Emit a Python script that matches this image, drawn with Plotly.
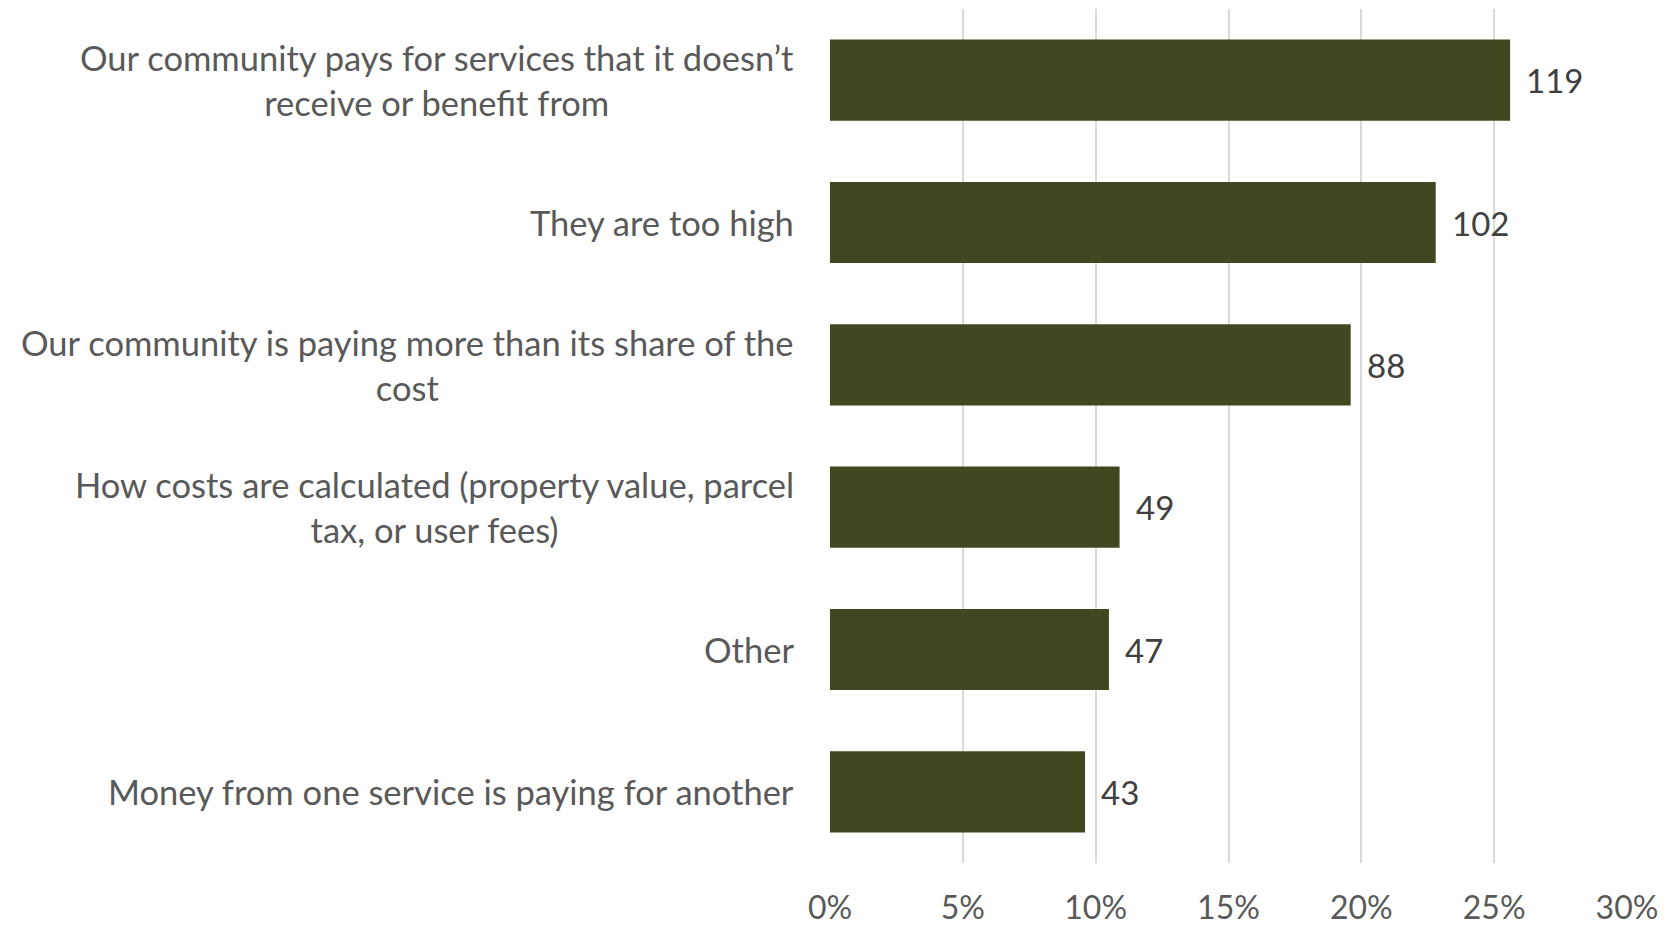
import plotly.graph_objects as go

# Survey responses: reason given, share of respondents (%), and count
reasons = [
    "Our community pays for services that it doesn\u2019t<br>receive or benefit from",
    "They are too high",
    "Our community is paying more than its share of the<br>cost",
    "How costs are calculated (property value, parcel<br>tax, or user fees)",
    "Other",
    "Money from one service is paying for another",
]
share_pct = [25.6, 22.8, 19.6, 10.9, 10.5, 9.6]
counts = [119, 102, 88, 49, 47, 43]
x_ticks = [0, 5, 10, 15, 20, 25, 30]
x_tick_labels = ["0%", "5%", "10%", "15%", "20%", "25%", "30%"]

BAR_COLOR = "#40481F"
LABEL_FONT = "Lato, 'Open Sans', sans-serif"

cat_ids = list(range(len(reasons)))

fig = go.Figure(
    go.Bar(
        x=share_pct,
        y=cat_ids,
        orientation="h",
        marker=dict(color=BAR_COLOR, line=dict(width=0)),
        hoverinfo="skip",
    )
)

annotations = []
# Category labels, centred block to the left of the plot
for i, name in zip(cat_ids, reasons):
    annotations.append(dict(
        x=0, xref="paper", y=i, yref="y",
        text=name, showarrow=False,
        xanchor="right", yanchor="middle", align="center",
        xshift=-34,
        font=dict(family=LABEL_FONT, size=34.5, color="#595959"),
    ))
# Count labels at the end of each bar
for i, v, c in zip(cat_ids, share_pct, counts):
    annotations.append(dict(
        x=v, xref="x", y=i, yref="y",
        text=str(c), showarrow=False,
        xanchor="left", yanchor="middle",
        xshift=14,
        font=dict(family=LABEL_FONT, size=33, color="#404040"),
    ))

fig.update_layout(
    width=1671, height=927,
    margin=dict(l=830, r=44, t=9, b=64, autoexpand=False),
    paper_bgcolor="white", plot_bgcolor="white",
    bargap=0.43,
    showlegend=False,
    annotations=annotations,
    xaxis=dict(
        range=[0, 30],
        tickvals=x_ticks, ticktext=x_tick_labels,
        showgrid=True, gridcolor="#D9D9D9", gridwidth=1.5,
        zeroline=False, showline=False, ticks="",
        ticklabelstandoff=23,
        automargin=False,
        tickfont=dict(family=LABEL_FONT, size=32, color="#595959"),
        fixedrange=True,
    ),
    yaxis=dict(
        range=[len(reasons) - 0.5, -0.5],
        showticklabels=False, showgrid=False, zeroline=False,
        showline=False, ticks="", fixedrange=True, automargin=False,
    ),
)

fig.write_html("out.html")
